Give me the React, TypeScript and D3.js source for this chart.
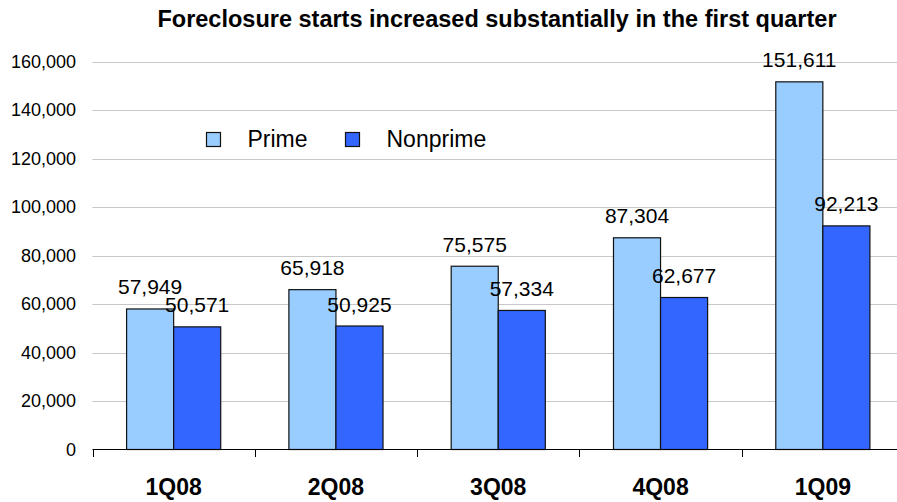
import React, { useEffect, useRef } from 'react';
import * as d3 from 'd3';

const categories = ['1Q08', '2Q08', '3Q08', '4Q08', '1Q09'];
const seriesNames = ['Prime', 'Nonprime'];
const primeValues = [57949, 65918, 75575, 87304, 151611];
const nonprimeValues = [50571, 50925, 57334, 62677, 92213];
const yTicks = [0, 20000, 40000, 60000, 80000, 100000, 120000, 140000, 160000];
const colors = ['#99CCFF', '#3366FF'];
const titleText = 'Foreclosure starts increased substantially in the first quarter';

const W = 897;
const H = 502;
const FONT = '"Liberation Sans", Arial, sans-serif';

const App: React.FC = () => {
  const svgRef = useRef<SVGSVGElement>(null);

  useEffect(() => {
    if (!svgRef.current) return;
    const svg = d3.select(svgRef.current);
    svg.selectAll('*').remove();

    // plot area runs past the right edge of the window, like the original
    const x0 = d3.scaleBand<string>()
      .domain(categories)
      .range([92.5, 904]);
    const bw = x0.bandwidth();
    const gw = bw * 0.58;
    const x1 = d3.scaleBand<string>()
      .domain(seriesNames)
      .range([(bw - gw) / 2, (bw + gw) / 2]);

    const y = d3.scaleLinear().domain([0, 160000]).range([449.5, 61.5]);

    // gridlines
    svg.append('g')
      .selectAll('line')
      .data(yTicks.filter(t => t > 0))
      .enter()
      .append('line')
      .attr('x1', 92.5)
      .attr('x2', W)
      .attr('y1', d => Math.round(y(d)) + 0.5)
      .attr('y2', d => Math.round(y(d)) + 0.5)
      .attr('stroke', '#c8c8c8')
      .attr('stroke-width', 1);

    // y tick labels
    svg.append('g')
      .selectAll('text')
      .data(yTicks)
      .enter()
      .append('text')
      .attr('x', 76)
      .attr('y', d => y(d))
      .attr('dy', '0.36em')
      .attr('text-anchor', 'end')
      .style('font-family', FONT)
      .style('font-size', '18px')
      .style('fill', '#000')
      .text(d => d3.format(',')(d));

    const rows = categories.map((c, i) => ({
      cat: c,
      vals: [primeValues[i], nonprimeValues[i]],
    }));

    const groups = svg.append('g')
      .selectAll('g')
      .data(rows)
      .enter()
      .append('g')
      .attr('transform', d => `translate(${x0(d.cat)},0)`);

    groups.selectAll('rect')
      .data(d => d.vals.map((v, j) => ({ name: seriesNames[j], v, j })))
      .enter()
      .append('rect')
      .attr('x', d => (x1(d.name) || 0))
      .attr('width', x1.bandwidth())
      .attr('y', d => y(d.v))
      .attr('height', d => y(0) - y(d.v))
      .attr('fill', d => colors[d.j])
      .attr('stroke', '#111')
      .attr('stroke-width', 1.2);

    groups.selectAll('text.val')
      .data(d => d.vals.map((v, j) => ({ name: seriesNames[j], v, j })))
      .enter()
      .append('text')
      .attr('class', 'val')
      .attr('x', d => (x1(d.name) || 0) + x1.bandwidth() / 2)
      .attr('y', d => y(d.v) - 14.5)
      .attr('text-anchor', 'middle')
      .style('font-family', FONT)
      .style('font-size', '21px')
      .style('fill', '#000')
      .text(d => d3.format(',')(d.v));

    // x axis
    svg.append('line')
      .attr('x1', 92.5)
      .attr('x2', W)
      .attr('y1', 449.5)
      .attr('y2', 449.5)
      .attr('stroke', '#000')
      .attr('stroke-width', 1);

    svg.append('g')
      .selectAll('line')
      .data(categories)
      .enter()
      .append('line')
      .attr('x1', d => Math.round(x0(d) || 0) + 0.5)
      .attr('x2', d => Math.round(x0(d) || 0) + 0.5)
      .attr('y1', 449.5)
      .attr('y2', 457)
      .attr('stroke', '#000')
      .attr('stroke-width', 1);

    svg.append('g')
      .selectAll('text')
      .data(categories)
      .enter()
      .append('text')
      .attr('x', d => (x0(d) || 0) + bw / 2)
      .attr('y', 495)
      .attr('text-anchor', 'middle')
      .style('font-family', FONT)
      .style('font-size', '23px')
      .style('font-weight', 'bold')
      .style('fill', '#000')
      .text(d => d);

    // legend
    const legendX = [206.5, 345.5];
    const legend = svg.append('g')
      .selectAll('g')
      .data(seriesNames)
      .enter()
      .append('g')
      .attr('transform', (_, i) => `translate(${legendX[i]},132.5)`);
    legend.append('rect')
      .attr('width', 14)
      .attr('height', 14)
      .attr('fill', (_, i) => colors[i])
      .attr('stroke', '#111')
      .attr('stroke-width', 1.2);
    legend.append('text')
      .attr('x', 41)
      .attr('y', 14.5)
      .style('font-family', FONT)
      .style('font-size', '23px')
      .style('fill', '#000')
      .text(d => d);

    // title
    svg.append('text')
      .attr('x', 497)
      .attr('y', 27)
      .attr('text-anchor', 'middle')
      .style('font-family', FONT)
      .style('font-size', '23.5px')
      .style('font-weight', 'bold')
      .style('fill', '#000')
      .text(titleText);
  }, []);

  return (
    <svg
      ref={svgRef}
      width={W}
      height={H}
      style={{ position: 'absolute', left: 0, top: 0, display: 'block', background: '#fff' }}
    />
  );
};

export default App;
